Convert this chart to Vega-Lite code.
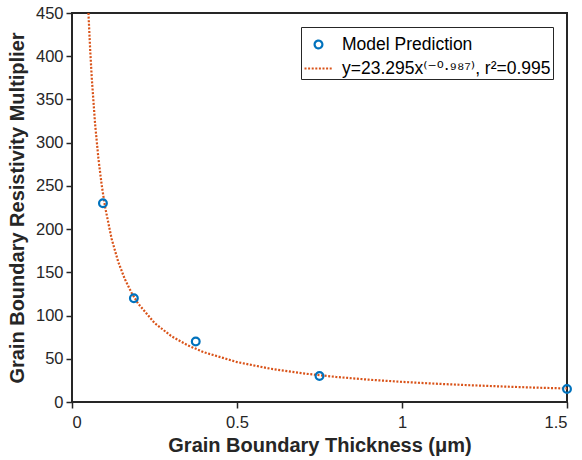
{
  "$schema": "https://vega.github.io/schema/vega-lite/v6.json",
  "width": 495,
  "height": 389,
  "autosize": "none",
  "padding": {"left": 72, "top": 13, "right": 15, "bottom": 58},
  "background": "white",
  "config": {
    "font": "Liberation Sans",
    "view": {"stroke": "#262626", "strokeWidth": 2},
    "axis": {
      "domain": false,
      "grid": false,
      "ticks": true,
      "tickColor": "#262626",
      "tickSize": 6,
      "tickWidth": 1.5,
      "labelColor": "#262626",
      "labelFontSize": 16.5,
      "labelFont": "Liberation Sans",
      "titleColor": "#262626",
      "titleFont": "Liberation Sans",
      "titleFontSize": 20,
      "titleFontWeight": "bold"
    }
  },
  "datasets": {
    "fit": [
      {"x": 0.0498, "y": 450, "series": "y=23.295x⁽⁻⁰·⁹⁸⁷⁾, r²=0.995"},
      {"x": 0.055, "y": 407.9, "series": "y=23.295x⁽⁻⁰·⁹⁸⁷⁾, r²=0.995"},
      {"x": 0.06, "y": 374.3, "series": "y=23.295x⁽⁻⁰·⁹⁸⁷⁾, r²=0.995"},
      {"x": 0.07, "y": 321.5, "series": "y=23.295x⁽⁻⁰·⁹⁸⁷⁾, r²=0.995"},
      {"x": 0.08, "y": 281.8, "series": "y=23.295x⁽⁻⁰·⁹⁸⁷⁾, r²=0.995"},
      {"x": 0.09, "y": 250.9, "series": "y=23.295x⁽⁻⁰·⁹⁸⁷⁾, r²=0.995"},
      {"x": 0.1, "y": 226.1, "series": "y=23.295x⁽⁻⁰·⁹⁸⁷⁾, r²=0.995"},
      {"x": 0.12, "y": 188.9, "series": "y=23.295x⁽⁻⁰·⁹⁸⁷⁾, r²=0.995"},
      {"x": 0.14, "y": 162.2, "series": "y=23.295x⁽⁻⁰·⁹⁸⁷⁾, r²=0.995"},
      {"x": 0.16, "y": 142.2, "series": "y=23.295x⁽⁻⁰·⁹⁸⁷⁾, r²=0.995"},
      {"x": 0.18, "y": 126.6, "series": "y=23.295x⁽⁻⁰·⁹⁸⁷⁾, r²=0.995"},
      {"x": 0.2, "y": 114.1, "series": "y=23.295x⁽⁻⁰·⁹⁸⁷⁾, r²=0.995"},
      {"x": 0.25, "y": 91.5, "series": "y=23.295x⁽⁻⁰·⁹⁸⁷⁾, r²=0.995"},
      {"x": 0.3, "y": 76.4, "series": "y=23.295x⁽⁻⁰·⁹⁸⁷⁾, r²=0.995"},
      {"x": 0.35, "y": 65.7, "series": "y=23.295x⁽⁻⁰·⁹⁸⁷⁾, r²=0.995"},
      {"x": 0.4, "y": 57.5, "series": "y=23.295x⁽⁻⁰·⁹⁸⁷⁾, r²=0.995"},
      {"x": 0.5, "y": 46.2, "series": "y=23.295x⁽⁻⁰·⁹⁸⁷⁾, r²=0.995"},
      {"x": 0.6, "y": 38.6, "series": "y=23.295x⁽⁻⁰·⁹⁸⁷⁾, r²=0.995"},
      {"x": 0.7, "y": 33.1, "series": "y=23.295x⁽⁻⁰·⁹⁸⁷⁾, r²=0.995"},
      {"x": 0.8, "y": 29.0, "series": "y=23.295x⁽⁻⁰·⁹⁸⁷⁾, r²=0.995"},
      {"x": 0.9, "y": 25.8, "series": "y=23.295x⁽⁻⁰·⁹⁸⁷⁾, r²=0.995"},
      {"x": 1.0, "y": 23.3, "series": "y=23.295x⁽⁻⁰·⁹⁸⁷⁾, r²=0.995"},
      {"x": 1.1, "y": 21.2, "series": "y=23.295x⁽⁻⁰·⁹⁸⁷⁾, r²=0.995"},
      {"x": 1.2, "y": 19.5, "series": "y=23.295x⁽⁻⁰·⁹⁸⁷⁾, r²=0.995"},
      {"x": 1.3, "y": 18.0, "series": "y=23.295x⁽⁻⁰·⁹⁸⁷⁾, r²=0.995"},
      {"x": 1.4, "y": 16.7, "series": "y=23.295x⁽⁻⁰·⁹⁸⁷⁾, r²=0.995"},
      {"x": 1.5, "y": 15.6, "series": "y=23.295x⁽⁻⁰·⁹⁸⁷⁾, r²=0.995"}
    ],
    "model": [
      {"x": 0.09375, "y": 230, "series": "Model Prediction"},
      {"x": 0.1875, "y": 120, "series": "Model Prediction"},
      {"x": 0.375, "y": 70, "series": "Model Prediction"},
      {"x": 0.75, "y": 30, "series": "Model Prediction"},
      {"x": 1.5, "y": 15, "series": "Model Prediction"}
    ]
  },
  "layer": [
    {
      "data": {"name": "fit"},
      "mark": {"type": "line", "strokeWidth": 2.2, "strokeDash": [2, 1.6], "clip": true},
      "encoding": {
        "x": {
          "field": "x", "type": "quantitative",
          "scale": {"domain": [0, 1.5], "nice": false, "zero": false},
          "axis": {"orient": "bottom", "values": [0, 0.5, 1, 1.5], "format": "~g", "title": "Grain Boundary Thickness (μm)", "labelPadding": 6, "titlePadding": 5}
        },
        "y": {
          "field": "y", "type": "quantitative",
          "scale": {"domain": [0, 450], "nice": false},
          "axis": {"orient": "left", "values": [0, 50, 100, 150, 200, 250, 300, 350, 400, 450], "title": "Grain Boundary Resistivity Multiplier", "labelPadding": 3, "titlePadding": 8}
        },
        "color": {
          "field": "series", "type": "nominal",
          "scale": {"domain": ["Model Prediction", "y=23.295x⁽⁻⁰·⁹⁸⁷⁾, r²=0.995"], "range": ["#0072BD", "#D95319"]},
          "legend": {
            "title": null,
            "orient": "top-right",
            "offset": 14,
            "padding": 2,
            "strokeColor": "#262626",
            "fillColor": "white",
            "labelFontSize": 17.5,
            "labelColor": "#000000",
            "labelFont": "Liberation Sans, DejaVu Sans",
            "labelLimit": 400,
            "rowPadding": 0,
            "labelOffset": 8,
            "symbolStrokeWidth": 2,
            "encode": {
              "symbols": {
                "update": {
                  "shape": {"signal": "datum.value === 'Model Prediction' ? 'circle' : 'stroke'"},
                  "size": {"signal": "datum.value === 'Model Prediction' ? 60 : 784"},
                  "strokeDash": {"signal": "datum.value === 'Model Prediction' ? [1, 0] : [2, 1.6]"},
                  "fill": {"value": "transparent"},
                  "stroke": {"signal": "scale('color', datum.value)"},
                  "strokeWidth": {"value": 2.2}
                }
              }
            }
          }
        }
      }
    },
    {
      "data": {"name": "model"},
      "mark": {"type": "point", "filled": false, "size": 60, "strokeWidth": 2.2, "opacity": 1},
      "encoding": {
        "x": {"field": "x", "type": "quantitative"},
        "y": {"field": "y", "type": "quantitative"},
        "color": {"field": "series", "type": "nominal"}
      }
    }
  ]
}
